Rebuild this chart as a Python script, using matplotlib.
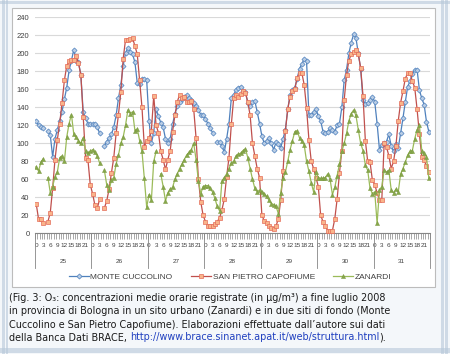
import numpy as np
import matplotlib
matplotlib.use("Agg")
import matplotlib.pyplot as plt
from matplotlib.patches import Rectangle
from matplotlib.lines import Line2D

NA = np.nan

days = ["25", "26", "27", "28", "29", "30", "31"]
hour_ticks = [0, 3, 6, 9, 12, 15, 18, 21]
series_names = ["MONTE CUCCOLINO", "SAN PIETRO CAPOFIUME", "ZANARDI"]

# hourly O3 (ug/m3), one row per day, hours 0..23
monte_cuccolino = [
    [125, 120, 118, 117, NA, 114, 109, 85, 105, 115, 125, 135, 149, 162, 181, 192, 204, 192, 190, 176, 135, 128, 122, 122],
    [122, 122, 118, 111, NA, 97, 102, 106, 110, 118, 131, 150, 165, 186, 200, 206, 202, 199, 190, 167, 166, 172, 172, 170],
    [125, 100, 112, 138, 130, 123, 118, 105, 100, 105, 121, 133, 141, 146, 149, 152, 154, 150, 148, 145, 141, 137, 132, 131],
    [127, 122, 117, 112, NA, 102, 101, 97, 90, 105, 122, 150, 154, 159, 162, 163, 158, 157, 145, 141, 146, 147, 135, 122],
    [108, 100, 103, 106, 100, 93, 101, 99, 95, 105, 115, 138, 154, 159, 162, 172, 183, 188, 194, 191, 132, 132, 135, 138],
    [130, 125, 113, 112, 113, 117, 115, 113, 120, 122, 140, 170, 182, 200, 212, 221, 217, 200, 183, 148, 144, 145, 148, 152],
    [146, 122, 93, 98, 100, 102, 110, 97, 91, 99, 95, 111, 128, 146, 163, 169, 177, 182, 182, 159, 150, 143, 124, 113],
]
san_pietro = [
    [33, 16, 16, 11, NA, 13, 23, 50, 82, 104, 122, 145, 170, 186, 191, 193, 193, 197, 189, 176, 129, 84, 82, 54],
    [44, 31, 28, 38, NA, 28, 36, 49, 67, 84, 111, 132, 157, 194, 215, 215, 216, 217, 208, 199, 170, 140, 96, 103],
    [106, 114, 153, 120, 112, 91, 82, 71, 82, 92, 113, 131, 146, 154, 150, 152, 146, 146, 147, 138, 106, 60, 35, 20],
    [13, 8, 8, 8, 10, 13, 17, 26, 38, 63, 84, 121, 150, 154, 151, 155, 158, 156, 146, 131, 100, 86, 72, 62],
    [20, 14, 11, 8, 6, 5, 8, 16, 37, 69, 114, 138, 152, 158, 160, 173, 178, 178, 165, 139, 104, 80, 72, 62],
    [52, 20, 13, 8, 3, 3, 3, 16, 38, 67, 92, 148, 176, 192, 199, 202, 204, 199, 184, 153, 103, 80, 79, 59],
    [54, 45, 37, 37, 100, 96, 86, 72, 80, 97, 125, 145, 158, 172, 178, 178, 169, 162, 138, 110, 85, 81, 75, 68],
]
zanardi = [
    [74, 69, 79, 83, NA, 62, 45, 52, 63, 68, 84, 86, 80, 107, 122, 132, 110, 107, 103, 100, 106, 92, 89, 91],
    [93, 90, 86, 78, NA, 70, 54, 48, 59, 62, 77, 87, 100, 107, 120, 137, 133, 135, 114, 116, 103, 91, 61, 29],
    [43, 37, 80, 91, NA, 66, 52, 36, 45, 49, 51, 60, 66, 72, 77, 82, 87, 90, 93, 100, 82, 58, 44, 52],
    [53, 53, 50, 46, 39, 30, 25, 58, 62, 66, 72, 78, 80, 86, 88, 89, 92, 94, 84, 72, 60, 50, 46, 48],
    [46, 44, 41, 37, 33, 32, 30, 22, 45, 61, 68, 80, 93, 103, 113, 114, 106, 103, 98, 80, 69, 56, 46, 68],
    [62, 61, 61, 62, 66, 60, 43, 51, 64, 77, 91, 100, 111, 125, 133, 137, 131, 115, 100, 92, 76, 70, 50, 44],
    [46, 11, 48, 52, 70, 68, 70, 48, 45, 49, 46, 66, 72, 79, 87, 91, 92, 105, 115, 120, 92, 89, 85, 61],
]

caption = [
    "(Fig. 3: O\u2083: concentrazioni medie orarie registrate (in \u00b5g/m\u00b3) a fine luglio 2008",
    "in provincia di Bologna in un sito urbano (Zanardi) e in due siti di fondo (Monte",
    "Cuccolino e San Pietro Capofiume). Elaborazioni effettuate dall\u2019autore sui dati",
]
caption_last = "della Banca Dati BRACE, "
caption_url = "http://www.brace.sinanet.apat.it/web/struttura.html"

W, H = 450, 354


def px_box(x0, y0, x1, y1):
    # pixel box (top-left origin) -> figure fraction rect
    return [x0 / W, 1 - y1 / H, (x1 - x0) / W, (y1 - y0) / H]


fig = plt.figure(figsize=(4.5, 3.54), dpi=100)
fig.patch.set_facecolor("#f4f7fa")

# decorative frame strokes
bg = fig.add_axes([0, 0, 1, 1])
bg.set_xlim(0, W)
bg.set_ylim(H, 0)
bg.axis("off")
for x, w in [(2, 3), (6, 1.5), (441, 2.5), (445, 3)]:
    bg.add_patch(Rectangle((x, 0), w, H, color="#b7c8d9", alpha=0.6, lw=0))
for y, h in [(1, 2.5), (348, 3), (351, 2)]:
    bg.add_patch(Rectangle((0, y), W, h, color="#b7c8d9", alpha=0.6, lw=0))
bg.add_patch(Rectangle((12, 8), 423, 279, facecolor="white", edgecolor="#bcbcbc", lw=0.8))

ax = fig.add_axes(px_box(35, 17.3, 430, 233.3))
ax.set_facecolor("white")

n = len(days) * 24
x = np.arange(n)
blue = np.array(monte_cuccolino, dtype=float).ravel()
red = np.array(san_pietro, dtype=float).ravel()
green = np.array(zanardi, dtype=float).ravel()

ax.plot(x, blue, color="#4f81bd", lw=0.9, marker="D", ms=2.6,
        mfc="#b9cde5", mec="#4f81bd", mew=0.5, label=series_names[0], zorder=3)
ax.plot(x, red, color="#c0504d", lw=0.9, marker="s", ms=3.2,
        mfc="#f9b48a", mec="#e46c5a", mew=0.5, label=series_names[1], zorder=3)
ax.plot(x, green, color="#9bbb59", lw=0.9, marker="^", ms=3.0,
        mfc="#86a84a", mec="#77933c", mew=0.3, label=series_names[2], zorder=3)

ax.set_xlim(-0.5, n - 0.5)
ax.set_ylim(0, 240)
ax.set_yticks(np.arange(0, 241, 20))
ax.grid(axis="y", color="#d9d9d9", lw=0.8)
ax.set_axisbelow(True)
for s in ["top", "right", "left"]:
    ax.spines[s].set_visible(False)
ax.spines["bottom"].set_color("#868686")
ax.spines["bottom"].set_linewidth(0.8)
ax.tick_params(axis="y", length=0, pad=4, labelsize=5.5, labelcolor="#404040")
for t in ax.get_yticklabels():
    t.set_fontfamily("Liberation Sans")

pos = [d * 24 + h for d in range(len(days)) for h in hour_ticks]
labs = [str(h) for d in range(len(days)) for h in hour_ticks]
ax.set_xticks(pos)
ax.set_xticklabels(labs)
ax.set_xticks(np.arange(n + 1) - 0.5, minor=True)
ax.tick_params(axis="x", which="major", length=0, pad=7, labelsize=4.6, labelcolor="#404040")
ax.tick_params(axis="x", which="minor", length=4, color="#868686", width=0.5)
for t in ax.get_xticklabels():
    t.set_fontfamily("Liberation Sans")

# day row of the category axis
trans = ax.get_xaxis_transform()
for d in range(len(days) + 1):
    ax.add_line(Line2D([d * 24 - 0.5] * 2, [0, -0.16], transform=trans,
                       color="#868686", lw=0.6, clip_on=False))
for d, name in enumerate(days):
    ax.text(d * 24 + 11.5, -0.13, name, transform=trans, ha="center", va="center",
            fontsize=4.6, color="#404040", family="Liberation Sans")

leg = fig.legend(loc="center", bbox_to_anchor=(230 / W, 1 - 277 / H), ncol=3,
                 frameon=False, handlelength=2.4, columnspacing=2.2,
                 handletextpad=0.2, prop={"family": "Liberation Sans", "size": 6.0})
for t in leg.get_texts():
    t.set_color("#404040")

# caption
fs = 6.95
ys = [298, 311.5, 324.5]
for y, line in zip(ys, caption):
    fig.text(9 / W, 1 - y / H, line, fontsize=fs, va="center", ha="left",
             color="#1a1a1a", family="DejaVu Sans")
t1 = fig.text(9 / W, 1 - 337.5 / H, caption_last, fontsize=fs, va="center", ha="left",
              color="#1a1a1a", family="DejaVu Sans")
fig.canvas.draw()
bb = t1.get_window_extent()
t2 = fig.text(bb.x1 / fig.bbox.width, 1 - 337.5 / H, caption_url, fontsize=fs,
              va="center", ha="left", color="#1f3fbf", family="DejaVu Sans")
fig.canvas.draw()
bb = t2.get_window_extent()
fig.text(bb.x1 / fig.bbox.width, 1 - 337.5 / H, ").", fontsize=fs, va="center",
         ha="left", color="#1a1a1a", family="DejaVu Sans")

fig.savefig("out.png", dpi=100, facecolor=fig.get_facecolor())
